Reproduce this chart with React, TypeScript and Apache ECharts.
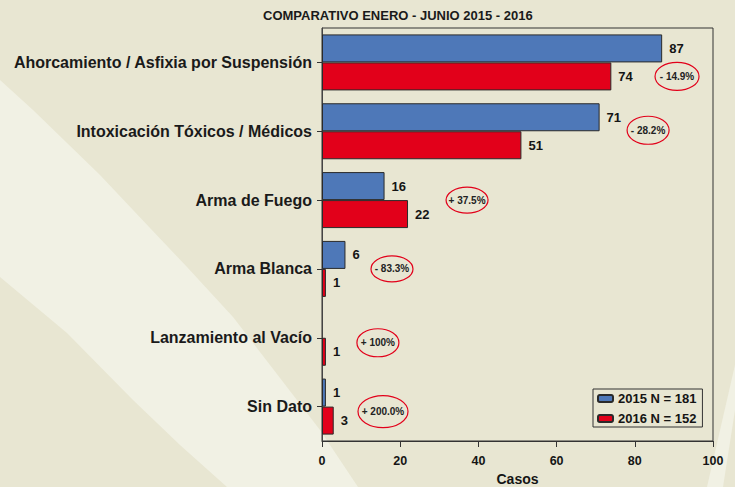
import React, { useEffect, useRef } from "react";
import * as echarts from "echarts";

const categories = [
  "Ahorcamiento / Asfixia por Suspensión",
  "Intoxicación Tóxicos / Médicos",
  "Arma de Fuego",
  "Arma Blanca",
  "Lanzamiento al Vacío",
  "Sin Dato",
];
const values2015: (number | null)[] = [87, 71, 16, 6, null, 1];
const values2016: (number | null)[] = [74, 51, 22, 1, 1, 3];
const seriesNames = ["2015 N = 181", "2016 N = 152"];
const changeLabels = ["- 14.9%", "- 28.2%", "+ 37.5%", "- 83.3%", "+ 100%", "+ 200.0%"];
// annotation anchor (x in "Casos" units) for each category
const noteX = [90.8, 83.4, 37.1, 17.9, 14.3, 15.6];
const xTicks = { min: 0, max: 100, interval: 20 };

const noteDy = [14, -1, 0, 0, 5, 5];
const noteRx = [22, 21, 21, 21, 21, 25];
const noteRy = [14, 14, 13, 13, 14, 16];

const FONT = "'Liberation Sans', Arial, sans-serif";
const BLUE = "#4E78B8";
const RED = "#E2001A";

export default function App() {
  const ref = useRef<HTMLDivElement>(null);
  useEffect(() => {
    if (!ref.current) return;
    const chart = echarts.init(ref.current, null, { renderer: "svg" });
    const barLabel = {
      show: true,
      position: "right",
      distance: 7,
      color: "#151515",
      fontWeight: "bold",
      fontSize: 13,
      fontFamily: FONT,
    };
    chart.setOption({
      animation: false,
      backgroundColor: "#E8E6D2",
      graphic: [
        {
          type: "polygon",
          z: -10,
          silent: true,
          shape: {
            points: [
              [0, 80], [33, 110], [100, 175], [150, 228], [187, 267], [233, 317],
              [280, 378], [320, 430], [358, 487], [227, 487], [180, 445],
              [133, 400], [67, 333], [0, 277],
            ],
          },
          style: { fill: "#F1F1E4" },
        },
        {
          type: "polygon",
          z: -10,
          silent: true,
          shape: { points: [[735, 365], [735, 410], [723, 487], [707, 487]] },
          style: { fill: "#F1F1E4" },
        },
      ],
      title: {
        text: "COMPARATIVO ENERO - JUNIO 2015 - 2016",
        left: 258,
        top: 4,
        textStyle: { fontSize: 13, fontWeight: "bold", color: "#1a1a1a", fontFamily: FONT },
      },
      legend: {
        data: seriesNames,
        orient: "vertical",
        left: 593,
        top: 389,
        padding: [3, 6, 2, 4],
        itemGap: 7,
        itemWidth: 15,
        itemHeight: 7,
        borderColor: "#333",
        borderWidth: 1,
        backgroundColor: "#E8E6D2",
        textStyle: { fontSize: 13, fontWeight: "bold", color: "#151515", fontFamily: FONT },
      },
      grid: {
        left: 322,
        right: 22,
        top: 28,
        bottom: 46,
        outerBoundsMode: "none",
        containLabel: false,
        show: true,
        borderColor: "#333",
        borderWidth: 1,
        backgroundColor: "transparent",
      },
      xAxis: {
        type: "value",
        min: xTicks.min,
        max: xTicks.max,
        interval: xTicks.interval,
        name: "Casos",
        nameLocation: "middle",
        nameGap: 31,
        nameTextStyle: { fontSize: 14, lineHeight: 14, fontWeight: "bold", color: "#151515", fontFamily: FONT },
        axisLine: { show: true, lineStyle: { color: "#333" } },
        axisTick: { show: true, length: 6, lineStyle: { color: "#333" } },
        axisLabel: { margin: 13, fontSize: 12.5, fontWeight: "bold", color: "#151515", fontFamily: FONT },
        splitLine: { show: false },
      },
      yAxis: {
        type: "category",
        data: categories,
        inverse: true,
        axisLine: { show: true, lineStyle: { color: "#444" } },
        axisTick: { show: true, alignWithLabel: true, length: 5, lineStyle: { color: "#333" } },
        axisLabel: { margin: 10, fontSize: 16, fontWeight: "bold", color: "#1a1a1a", fontFamily: FONT },
      },
      series: [
        {
          name: seriesNames[0],
          type: "bar",
          data: values2015,
          barWidth: 28,
          barGap: "0%",
          itemStyle: { color: BLUE, borderColor: "#2a2a2a", borderWidth: 1 },
          label: barLabel,
        },
        {
          name: seriesNames[1],
          type: "bar",
          data: values2016,
          barWidth: 28,
          barGap: "0%",
          itemStyle: { color: RED, borderColor: "#2a2a2a", borderWidth: 1 },
          label: barLabel,
        },
        {
          type: "custom",
          name: "notes",
          clip: false,
          silent: true,
          encode: { x: 0, y: 1 },
          data: noteX.map((x, i) => [x, i]),
          renderItem: (params: any, api: any) => {
            const i = params.dataIndex;
            const pt = api.coord([api.value(0), api.value(1)]);
            const cy = pt[1] + noteDy[i];
            return {
              type: "group",
              children: [
                {
                  type: "ellipse",
                  shape: { cx: pt[0], cy, rx: noteRx[i], ry: noteRy[i] },
                  style: { fill: "none", stroke: RED, lineWidth: 1.2 },
                },
                {
                  type: "text",
                  x: pt[0],
                  y: cy,
                  style: {
                    text: changeLabels[i],
                    fill: "#222",
                    font: `bold 10px ${FONT}`,
                    align: "center",
                    verticalAlign: "middle",
                  },
                },
              ],
            };
          },
        },
      ],
    });
    return () => chart.dispose();
  }, []);
  return (
    <div
      ref={ref}
      style={{ position: "absolute", left: 0, top: 0, width: 735, height: 487 }}
    />
  );
}
